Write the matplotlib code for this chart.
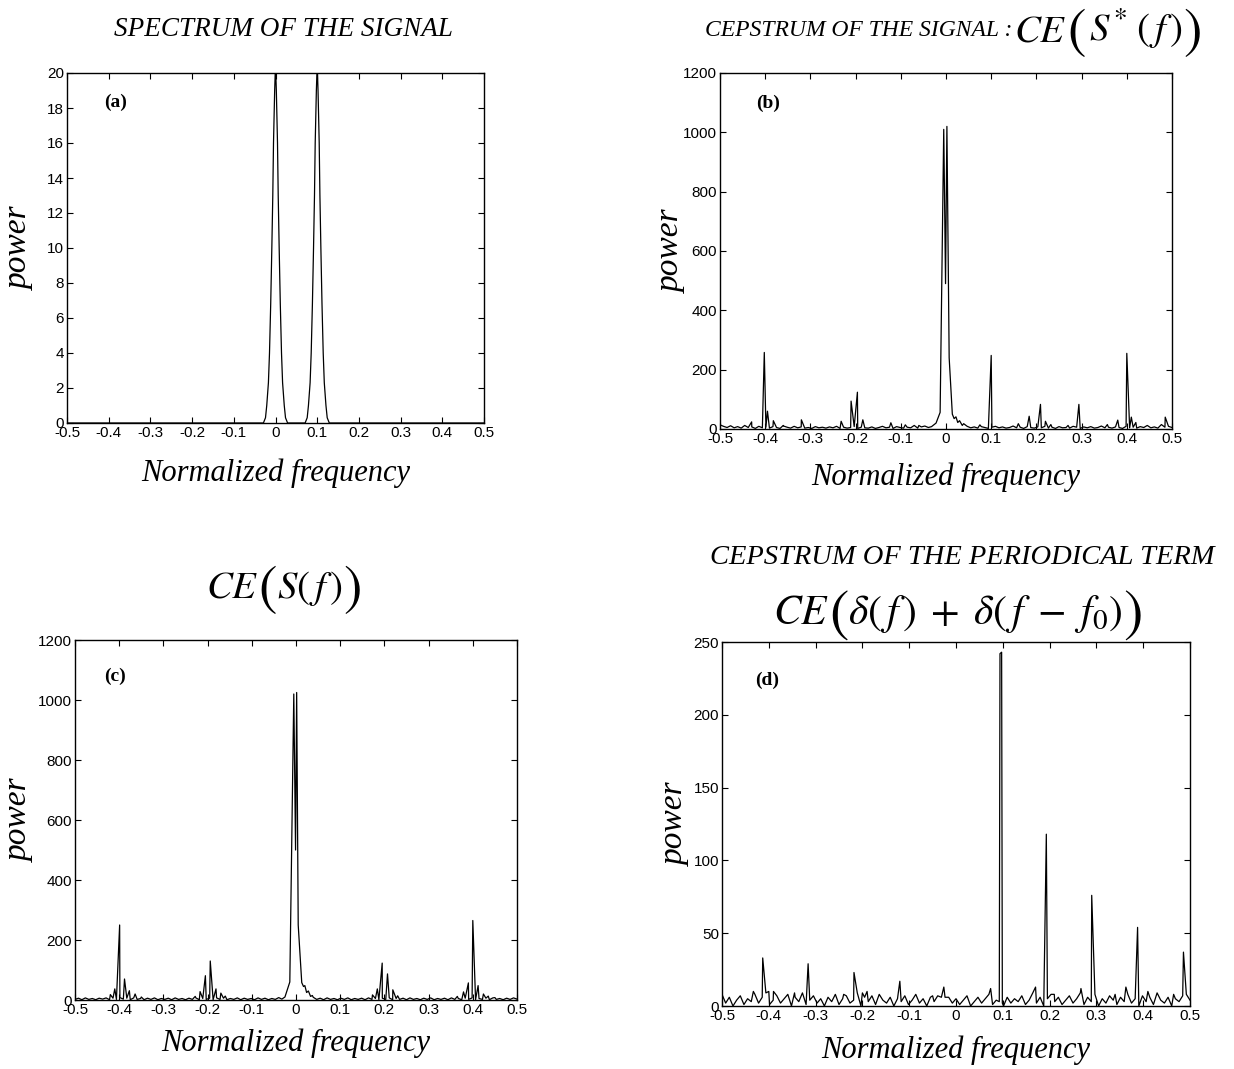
import numpy as np
import matplotlib
matplotlib.use("Agg")
import matplotlib.pyplot as plt

plt.rcParams["font.family"] = ["Liberation Sans", "DejaVu Sans"]
plt.rcParams["mathtext.fontset"] = "stix"

# ---------------------------------------------------------------- data
freq_ticks = [-0.5, -0.4, -0.3, -0.2, -0.1, 0.0, 0.1, 0.2, 0.3, 0.4, 0.5]
freq_tick_labels = ["-0.5", "-0.4", "-0.3", "-0.2", "-0.1", "0",
                    "0.1", "0.2", "0.3", "0.4", "0.5"]

# (a) spectrum: two narrow lines at f = 0 and f = 0.1
spec_freq = [-0.5, -0.029, -0.024, -0.021, -0.017, -0.0144, -0.0115, -0.0088,
             -0.0065, -0.0048, -0.002, 0.0, 0.002, 0.0048, 0.0065, 0.0088,
             0.0115, 0.0144, 0.017, 0.021, 0.024, 0.029,
             0.071, 0.076, 0.079, 0.083, 0.0856, 0.0885, 0.0912, 0.0935,
             0.0952, 0.098, 0.1, 0.102, 0.1048, 0.1065, 0.1088, 0.1115,
             0.1144, 0.117, 0.121, 0.124, 0.129, 0.5]
spec_power = [0.0, 0.0, 0.3, 1.0, 2.3, 4.0, 6.8, 10.0,
              13.0, 16.0, 19.0, 20.5, 19.0, 16.0, 13.0, 10.0,
              6.8, 4.0, 2.3, 1.0, 0.3, 0.0,
              0.0, 0.3, 1.0, 2.3, 4.0, 6.8, 10.0, 13.0,
              16.0, 19.0, 20.5, 19.0, 16.0, 13.0, 10.0, 6.8,
              4.0, 2.3, 1.0, 0.3, 0.0, 0.0]

# background level of the cepstra on a 1/128 frequency grid (129 bins)
ceps_b_floor = [
    14, 9, 5, 11, 4, 8, 3, 12, 5, 7, 2, 9, 4, 6, 3, 8,
    5, 2, 10, 6, 3, 9, 4, 7, 3, 5, 2, 8, 4, 6, 3, 7,
    4, 9, 2, 6, 3, 5, 8, 2, 6, 4, 3, 7, 2, 5, 9, 4,
    6, 2, 8, 5, 3, 6, 4, 12, 3, 7, 10, 5, 20, 40, 0, 0,
    0, 0, 0, 0, 30, 18, 9, 4, 7, 3, 8, 5, 2, 6, 9, 4,
    7, 3, 5, 10, 4, 6, 2, 8, 5, 3, 7, 4, 9, 3, 6, 2,
    8, 4, 5, 3, 9, 6, 2, 7, 4, 8, 3, 5, 10, 4, 6, 3,
    7, 5, 2, 9, 4, 6, 3, 8, 5, 12, 4, 7, 3, 15, 6, 9, 5]
ceps_c_floor = [
    2, 6, 1, 7, 2, 5, 1, 6, 3, 7, 1, 6, 2, 8, 3, 6,
    1, 7, 2, 5, 1, 6, 2, 7, 1, 5, 2, 6, 1, 7, 2, 5,
    1, 6, 2, 7, 1, 5, 2, 6, 1, 7, 2, 6, 1, 5, 2, 7,
    1, 6, 2, 5, 1, 7, 2, 6, 1, 5, 2, 8, 3, 10, 0, 0,
    0, 0, 0, 0, 3, 9, 2, 6, 1, 7, 2, 5, 1, 6, 2, 7,
    1, 5, 2, 6, 1, 7, 2, 5, 1, 6, 2, 7, 1, 5, 2, 6,
    1, 7, 2, 5, 1, 6, 2, 7, 1, 5, 2, 6, 1, 7, 2, 5,
    1, 6, 2, 7, 1, 5, 2, 6, 1, 7, 2, 5, 1, 6, 2, 7, 3]
ceps_d_floor = [
    8, 2, 6, 0, 4, 7, 1, 5, 3, 8, 2, 6, 9, 1, 4, 7,
    2, 5, 8, 0, 6, 3, 9, 1, 4, 7, 2, 5, 0, 6, 3, 8,
    1, 5, 7, 2, 4, 9, 0, 6, 3, 7, 1, 8, 4, 2, 6, 0,
    5, 3, 7, 1, 4, 8, 2, 5, 0, 6, 3, 7, 6, 6, 6, 2,
    5, 1, 4, 7, 0, 3, 6, 2, 5, 8, 1, 4, 3, 0, 6, 2,
    5, 3, 7, 1, 4, 9, 2, 6, 0, 5, 8, 3, 6, 1, 4, 7,
    2, 5, 9, 1, 6, 3, 8, 0, 5, 2, 7, 4, 1, 6, 3, 8,
    2, 5, 0, 7, 3, 6, 1, 9, 4, 2, 6, 0, 5, 3, 7, 8, 4]

# (b) cepstrum of the signal CE(S*(f))
ceps_b_core_freq = [-0.032, -0.022, -0.013, -0.005, -0.001, 0.002, 0.007,
                    0.014, 0.018, 0.022, 0.026, 0.030, 0.036]
ceps_b_core_power = [8, 20, 56, 1010, 490, 1020, 240, 50, 35, 41, 22, 28, 12]
ceps_b_peak_freq = [-0.43, -0.402, -0.395, -0.382, -0.36, -0.32, -0.232,
                    -0.21, -0.196, -0.184, -0.122, -0.09, -0.06, 0.075,
                    0.1, 0.16, 0.184, 0.209, 0.22, 0.232, 0.27, 0.294,
                    0.357, 0.38, 0.4, 0.41, 0.42, 0.485]
ceps_b_peak_power = [24, 258, 60, 28, 12, 31, 26, 94, 124, 31, 21, 14, 12, 14,
                     248, 18, 43, 83, 26, 15, 12, 83, 15, 30, 255, 40, 22, 40]

# (c) CE(S(f))
ceps_c_core_freq = [-0.032, -0.025, -0.014, -0.005, -0.001, 0.0015, 0.005,
                    0.013, 0.017, 0.020, 0.024, 0.028, 0.033, 0.037]
ceps_c_core_power = [3, 10, 60, 1020, 500, 1025, 250, 58, 45, 48, 25, 30, 12, 15]
ceps_c_peak_freq = [-0.42, -0.41, -0.399, -0.388, -0.377, -0.364, -0.35,
                    -0.228, -0.217, -0.205, -0.194, -0.181, -0.17, -0.16,
                    0.173, 0.184, 0.195, 0.207, 0.219, 0.23,
                    0.365, 0.379, 0.39, 0.4, 0.412, 0.424, 0.435, 0.45]
ceps_c_peak_power = [18, 37, 250, 70, 31, 20, 10,
                     12, 28, 81, 130, 37, 23, 13,
                     17, 37, 123, 87, 34, 14,
                     12, 27, 57, 265, 48, 20, 13, 8]

# (d) cepstrum of the periodical term
ceps_d_core_freq = [0.0925, 0.094, 0.0975, 0.099]
ceps_d_core_power = [3, 242, 243, 2]
ceps_d_peak_freq = [-0.433, -0.413, -0.40, -0.39, -0.345, -0.316, -0.24,
                    -0.218, -0.20, -0.19, -0.12, -0.05, -0.026, 0.074,
                    0.17, 0.193, 0.21, 0.267, 0.29, 0.34, 0.363, 0.388,
                    0.41, 0.465, 0.486]
ceps_d_peak_power = [10, 33, 10, 10, 9, 29, 8,
                     23, 9, 10, 17, 7, 13, 12,
                     13, 118, 8, 12, 76, 8, 13, 54,
                     10, 8, 37]

bin_freq = np.arange(129) / 128 - 0.5


def cepstrum_curve(floor, peak_f, peak_p, core_f, core_p):
    x = bin_freq
    y = np.asarray(floor, dtype=float)
    keep = (x < core_f[0]) | (x > core_f[-1])
    xs = np.concatenate([x[keep], peak_f, core_f])
    ys = np.concatenate([y[keep], peak_p, core_p])
    order = np.argsort(xs, kind="stable")
    return xs[order], ys[order]


# ---------------------------------------------------------------- figure
W, H = 1234, 1069
fig = plt.figure(figsize=(W / 100, H / 100), dpi=100)
renderer = fig.canvas.get_renderer()


def axes_px(left, top, right, bottom):
    return fig.add_axes([left / W, 1 - bottom / H, (right - left) / W,
                         (bottom - top) / H])


serif_it = dict(family="Liberation Serif", style="italic")


def style(ax, yticks, label, ylab_x, xlab_y, lab_pos):
    ax.set_xlim(-0.5, 0.5)
    ax.set_xticks(freq_ticks)
    ax.set_xticklabels(freq_tick_labels)
    ax.set_yticks(yticks)
    ax.set_ylim(yticks[0], yticks[-1])
    ax.tick_params(direction="in", top=True, right=True, length=4,
                   width=0.8, labelsize=11, pad=2)
    for s in ax.spines.values():
        s.set_linewidth(1.0)
    ax.set_ylabel("power", fontsize=24, **serif_it)
    ax.yaxis.set_label_coords(ylab_x, 0.5)
    ax.yaxis.label.set_va("center")
    ax.set_xlabel("Normalized frequency", fontsize=22, **serif_it)
    ax.xaxis.set_label_coords(0.5, xlab_y)
    ax.xaxis.label.set_va("center")
    ax.text(lab_pos[0], lab_pos[1], label, transform=ax.transAxes,
            family="Liberation Serif", fontweight="bold", fontsize=14,
            ha="left", va="center")


line_kw = dict(color="black", lw=0.9)

# (a)
ax_a = axes_px(67, 73, 484, 423)
ax_a.plot(spec_freq, spec_power, **line_kw)
style(ax_a, list(range(0, 21, 2)), "(a)", -0.113, -0.143, (0.09, 0.915))

# (b)
ax_b = axes_px(720, 73, 1172, 429)
xb, yb = cepstrum_curve(ceps_b_floor, ceps_b_peak_freq, ceps_b_peak_power,
                        ceps_b_core_freq, ceps_b_core_power)
ax_b.plot(xb, yb, **line_kw)
style(ax_b, list(range(0, 1201, 200)), "(b)", -0.106, -0.135, (0.08, 0.916))

# (c)
ax_c = axes_px(75, 640, 517, 1000)
xc, yc = cepstrum_curve(ceps_c_floor, ceps_c_peak_freq, ceps_c_peak_power,
                        ceps_c_core_freq, ceps_c_core_power)
ax_c.plot(xc, yc, **line_kw)
style(ax_c, list(range(0, 1201, 200)), "(c)", -0.124, -0.12, (0.066, 0.9))

# (d)
ax_d = axes_px(722, 642, 1190, 1006)
xd, yd = cepstrum_curve(ceps_d_floor, ceps_d_peak_freq, ceps_d_peak_power,
                        ceps_d_core_freq, ceps_d_core_power)
ax_d.plot(xd, yd, **line_kw)
style(ax_d, list(range(0, 251, 50)), "(d)", -0.098, -0.121, (0.07, 0.896))


def fig_text(x, y, s, **kw):
    fig.text(x / W, 1 - y / H, s, **kw)


def formula(x, baseline, pieces, align="left"):
    """Lay out math pieces side by side on a common baseline (pixel coords
    from the top-left corner); each piece is (text, fontsize, drop_px)."""
    items, cursor = [], 0.0
    for s, size, drop in pieces:
        t = fig.text(0, 0, s, fontsize=size, transform=None,
                     ha="left", va="baseline")
        w = t.get_window_extent(renderer).width
        items.append((t, cursor, drop))
        cursor += w
    start = x - cursor / 2 if align == "center" else x
    for t, off, drop in items:
        t.set_position((start + off, H - baseline - drop))


MS, PS, PD = 28, 40, 6   # math size, big paren size, big paren drop

fig_text(283, 30, "SPECTRUM OF THE SIGNAL", fontsize=19.5, ha="center",
         va="center", **serif_it)
fig_text(705, 30, "CEPSTRUM OF THE SIGNAL :", fontsize=17, ha="left",
         va="center", **serif_it)
formula(1014, 41, [(r"$CE\,$", MS, 0), (r"$($", PS, PD),
                   (r"$\,S^{*}\;(\,f\,)$", MS, 0), (r"$)$", PS, PD)])
formula(283, 598, [(r"$CE$", MS, 0), (r"$($", PS, PD),
                   (r"$S(\,f\,)$", MS, 0), (r"$)$", PS, PD)], align="center")
fig_text(962, 558, "CEPSTRUM OF THE PERIODICAL TERM", fontsize=20.5,
         ha="center", va="center", **serif_it)
formula(957, 624, [(r"$CE$", 30, 0), (r"$($", 42, PD),
                   (r"$\delta(\,f\,)\;+\;\delta(\,f\;-\;f_{0})$", 30, 0),
                   (r"$)$", 42, PD)], align="center")

fig.savefig("out.png", dpi=100)
